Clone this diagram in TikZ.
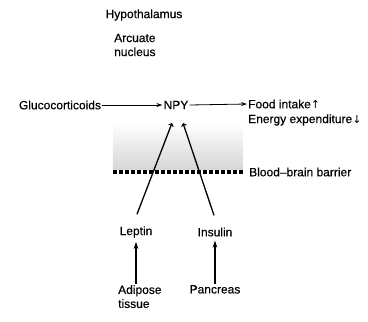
\documentclass[tikz,border=0pt]{standalone}
\usepackage{fontspec}
\setmainfont{Liberation Sans}[FakeBold=0.4]
\newfontfamily\arrfont{DejaVu Sans}
\usetikzlibrary{arrows.meta,calc}
\begin{document}
\begin{tikzpicture}[x=1pt,y=-1pt,
  lbl/.style={inner sep=1pt,font=\fontsize{12}{14}\selectfont},
  harrow/.style={line width=0.8pt,-{Stealth[length=6pt,width=4pt]}},
  varrow/.style={line width=1.3pt,-{Stealth[length=7pt,width=4.5pt]}},
  barbarrow/.style={line width=1.3pt,-{Straight Barb[length=2.5pt,width=5pt,line width=0.9pt]}}]
\useasboundingbox (0,0) rectangle (368,322);
% shaded region and barrier
\shade[top color=white,bottom color=gray!32] (113,123) rectangle (243,169);
\draw[line width=3.6pt,dash pattern=on 3.6pt off 2.4pt] (113,172) -- (244,172);
% texts
\node[lbl] (hyp) at (144,15) {Hypothalamus};
\node[lbl,align=left,anchor=west] (arc) at (113,45) {Arcuate\\nucleus};
\node[lbl] (glu) at (60,105) {Glucocorticoids};
\node[lbl] (npy) at (176,105) {NPY};
\node[lbl,anchor=west] (food) at (247,104) {Food intake{\arrfont\fontsize{11}{12}\selectfont↑}};
\node[lbl,anchor=west] (energy) at (247,120) {Energy expenditure{\arrfont\fontsize{11}{12}\selectfont↓}};
\node[lbl,anchor=west] (bbb) at (248,172) {Blood–brain barrier};
\node[lbl] (leptin) at (136,232) {Leptin};
\node[lbl] (insulin) at (215,232) {Insulin};
\node[lbl,align=left,anchor=north west] (adipose) at (117,284) {Adipose\\tissue};
\node[lbl,anchor=north] (pancreas) at (215,284) {Pancreas};
% connectors
\draw[harrow] (glu.east) -- (npy.west);
\draw[harrow] (npy.east) -- (food.west);
\coordinate (ltip) at (172,123);
\coordinate (itip) at (183,123);
\draw[barbarrow] ([xshift=1pt,yshift=11pt]leptin.north) -- (ltip);
\draw[barbarrow] ([xshift=-1pt,yshift=11pt]insulin.north) -- (itip);
\draw[varrow] (adipose.north -| leptin.south) -- ([yshift=-3pt]leptin.south);
\draw[varrow] (pancreas.north) -- ([yshift=-3pt]insulin.south);
\end{tikzpicture}
\end{document}
